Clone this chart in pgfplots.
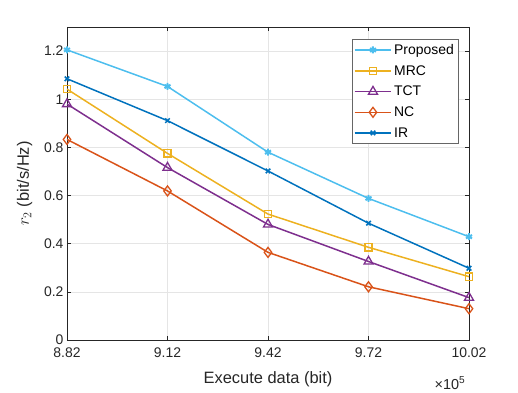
\documentclass[border=0pt]{standalone}
\usepackage{pgfplots}
\pgfplotsset{compat=1.18}
\usepackage{fontspec}
\setmainfont{Liberation Sans}
\definecolor{mlblue}{rgb}{0,0.447,0.741}
\definecolor{mlorange}{rgb}{0.85,0.325,0.098}
\definecolor{mlyellow}{rgb}{0.929,0.694,0.125}
\definecolor{mlpurple}{rgb}{0.494,0.184,0.556}
\definecolor{mlcyan}{rgb}{0.302,0.745,0.933}
\begin{document}
\begin{tikzpicture}
\begin{axis}[
    at={(0,0)}, anchor=south west,
    scale only axis,
    width=402bp, height=313bp,
    xmin=8.82, xmax=10.02,
    ymin=0, ymax=1.3,
    xtick={8.82,9.12,9.42,9.72,10.02},
    xticklabels={8.82,9.12,9.42,9.72,10.02},
    ytick={0,0.2,0.4,0.6,0.8,1,1.2},
    yticklabels={0,0.2,0.4,0.6,0.8,1,1.2},
    tick align=inside,
    major tick length=4bp,
    tick style={black!85, line width=0.6pt},
    axis line style={black!85, line width=0.6pt},
    grid=major,
    grid style={black!10, line width=0.6pt},
    tick label style={font=\fontsize{14}{16}\selectfont, text=black!85},
    xticklabel style={yshift=-4bp},
    xlabel={Execute data (bit)},
    ylabel={$r_2$ (bit/s/Hz)},
    label style={font=\fontsize{16.5}{18}\selectfont, text=black!85},
    xlabel style={yshift=-7bp},
    ylabel style={yshift=5bp},
    legend style={at={(0.973,0.962)}, anchor=north east,
        font=\fontsize{14}{16}\selectfont, draw=black!60, line width=0.6pt,
        row sep=5.5bp, inner xsep=2bp, inner ysep=3bp},
    legend cell align=left,
    legend image code/.code={
        \draw[#1, mark repeat=2, mark phase=2] plot coordinates {(0cm,0cm) (0.65cm,0cm) (1.3cm,0cm)};
    },
    every axis plot/.append style={line width=1.5pt, mark options={solid}},
]
\addplot[color=mlcyan, mark=asterisk, mark size=3.5pt, mark options={line width=2pt}]
  coordinates {(8.82,1.205) (9.12,1.053) (9.42,0.780) (9.72,0.588) (10.02,0.429)};
\addplot[color=mlyellow, mark=square, mark size=3.6pt, mark options={line width=1.3pt}]
  coordinates {(8.82,1.042) (9.12,0.775) (9.42,0.523) (9.72,0.385) (10.02,0.263)};
\addplot[color=mlpurple, mark=triangle, mark size=5.2pt, mark options={line width=1.3pt}]
  coordinates {(8.82,0.980) (9.12,0.716) (9.42,0.480) (9.72,0.326) (10.02,0.176)};
\addplot[color=mlorange, mark=diamond, mark size=5pt, mark options={line width=1.3pt}]
  coordinates {(8.82,0.833) (9.12,0.619) (9.42,0.364) (9.72,0.221) (10.02,0.130)};
\addplot[color=mlblue, mark=x, mark size=3.2pt, mark options={line width=1.5pt}]
  coordinates {(8.82,1.085) (9.12,0.911) (9.42,0.702) (9.72,0.485) (10.02,0.298)};
\legend{Proposed,MRC,TCT,NC,IR}
\end{axis}
\node[anchor=center, text=black!85, font=\fontsize{14.5}{16}\selectfont] at (383bp,-43bp) {×10\textsuperscript{5}};
\path[use as bounding box] (-67bp,-49bp) rectangle (451bp,340bp);
\end{tikzpicture}
\end{document}
